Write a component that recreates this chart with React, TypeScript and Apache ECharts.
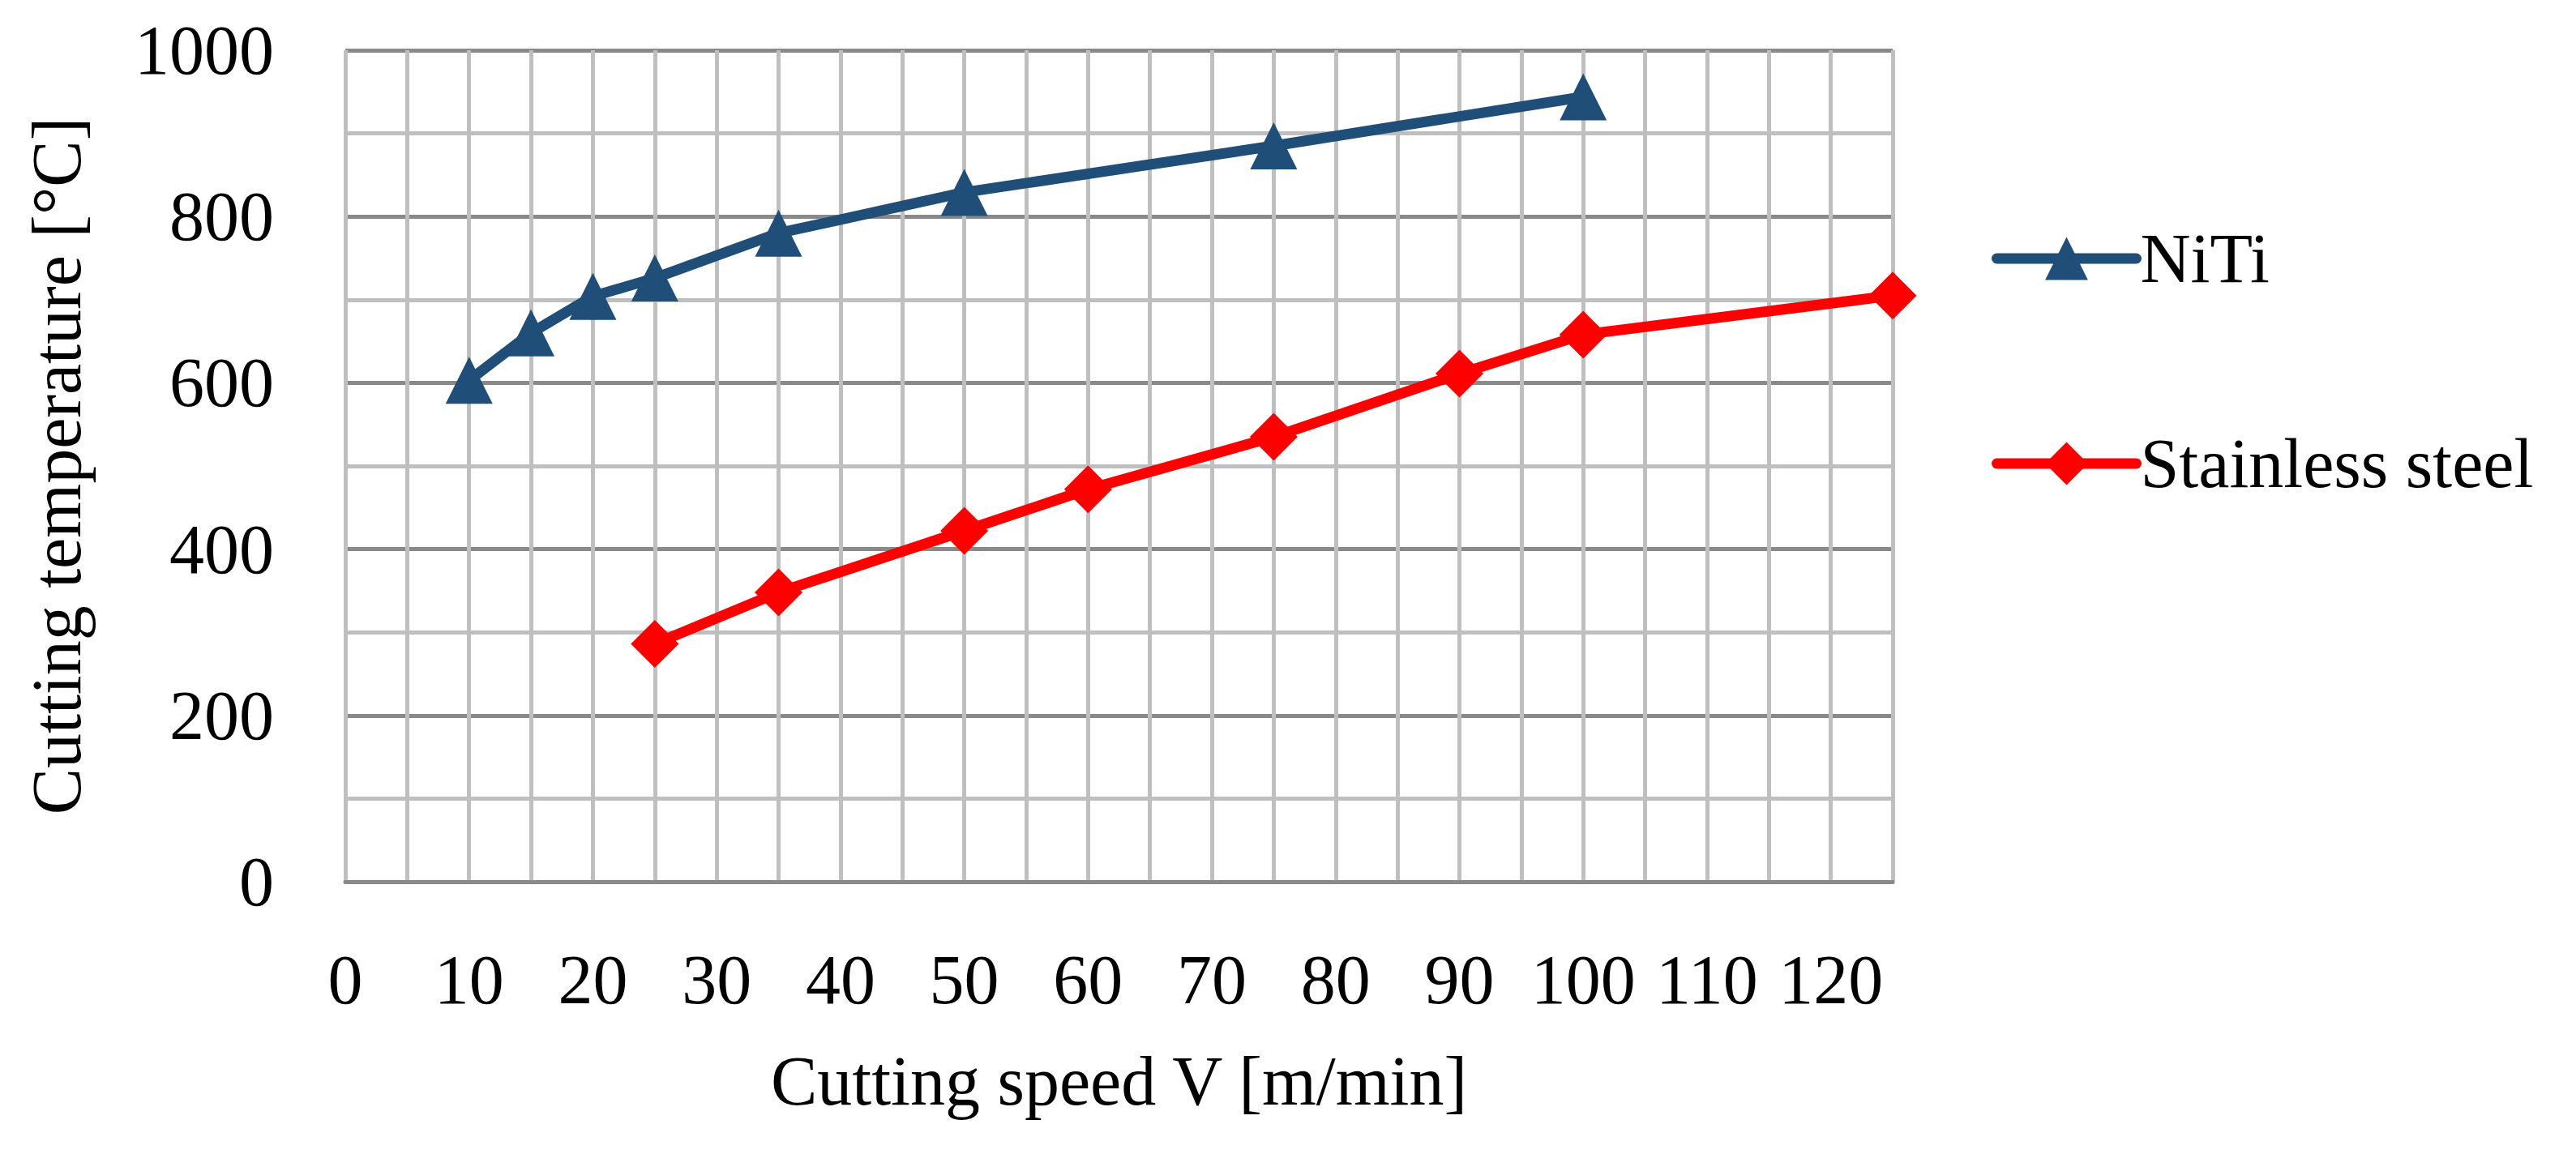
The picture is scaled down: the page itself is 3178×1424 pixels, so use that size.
import React, { useEffect, useRef } from "react";
import * as echarts from "echarts";

const nitiSpeed = [10, 15, 20, 25, 35, 50, 75, 100];
const nitiTemp = [603, 660, 704, 726, 780, 829, 885, 944];
const steelSpeed = [25, 35, 50, 60, 75, 90, 100, 125];
const steelTemp = [286, 348, 422, 472, 535, 611, 658, 705];
const seriesNames = ["NiTi", "Stainless steel"];
const xTitle = "Cutting speed V [m/min]";
const yTitle = "Cutting temperature [°C]";

const FONT = "'Liberation Serif', 'DejaVu Serif', serif";

export default function App() {
  const ref = useRef<HTMLDivElement>(null);
  useEffect(() => {
    document.body.style.margin = "0";
    const chart = echarts.init(ref.current!, null, { renderer: "svg" });
    const zip = (xs: number[], ys: number[]) => xs.map((x, i) => [x, ys[i]]);
    chart.setOption({
      animation: false,
      backgroundColor: "#ffffff",
      textStyle: { fontFamily: FONT, color: "#000" },
      grid: { left: 426, top: 62, width: 1909, height: 1026, containLabel: false },
      legend: {
        orient: "vertical",
        left: 2452,
        top: 271,
        itemWidth: 172,
        itemHeight: 66,
        itemGap: 167,
        data: seriesNames,
        lineStyle: { width: 13, cap: "round" },
        textStyle: {
          fontFamily: FONT,
          fontSize: 86,
          lineHeight: 64,
          color: "#000",
          padding: [0, 0, 0, 0],
        },
      },
      xAxis: {
        type: "value",
        min: 0,
        max: 125,
        interval: 5,
        name: xTitle,
        nameLocation: "middle",
        nameGap: 203,
        nameTextStyle: { fontFamily: FONT, fontSize: 86, color: "#000" },
        axisLine: { show: true, lineStyle: { color: "#898989", width: 5 } },
        axisTick: { show: false },
        axisLabel: {
          fontFamily: FONT,
          fontSize: 86,
          color: "#000",
          margin: 78,
          showMaxLabel: false,
          formatter: (v: number) => (v % 10 === 0 ? String(v) : ""),
        },
        splitLine: { show: true, lineStyle: { color: "#BFBFBF", width: 5 } },
      },
      yAxis: {
        type: "value",
        min: 0,
        max: 1000,
        interval: 100,
        name: yTitle,
        nameLocation: "middle",
        nameGap: 313,
        nameTextStyle: { fontFamily: FONT, fontSize: 86, color: "#000" },
        axisLine: { show: false },
        axisTick: { show: false },
        axisLabel: {
          fontFamily: FONT,
          fontSize: 86,
          color: "#000",
          margin: 88,
          formatter: (v: number) => (v % 200 === 0 ? String(v) : ""),
        },
        splitLine: { show: true, lineStyle: { color: ["#898989", "#BFBFBF"], width: 5 } },
      },
      series: [
        {
          name: seriesNames[0],
          type: "line",
          data: zip(nitiSpeed, nitiTemp),
          symbol: "triangle",
          symbolSize: 58,
          itemStyle: { color: "#1F4E79" },
          lineStyle: { color: "#1F4E79", width: 13 },
          z: 3,
        },
        {
          name: seriesNames[1],
          type: "line",
          data: zip(steelSpeed, steelTemp),
          symbol: "diamond",
          symbolSize: 59,
          itemStyle: { color: "#FF0000" },
          lineStyle: { color: "#FF0000", width: 13 },
          z: 3,
        },
      ],
    });
    return () => chart.dispose();
  }, []);
  return <div ref={ref} style={{ width: 3178, height: 1424 }} />;
}
